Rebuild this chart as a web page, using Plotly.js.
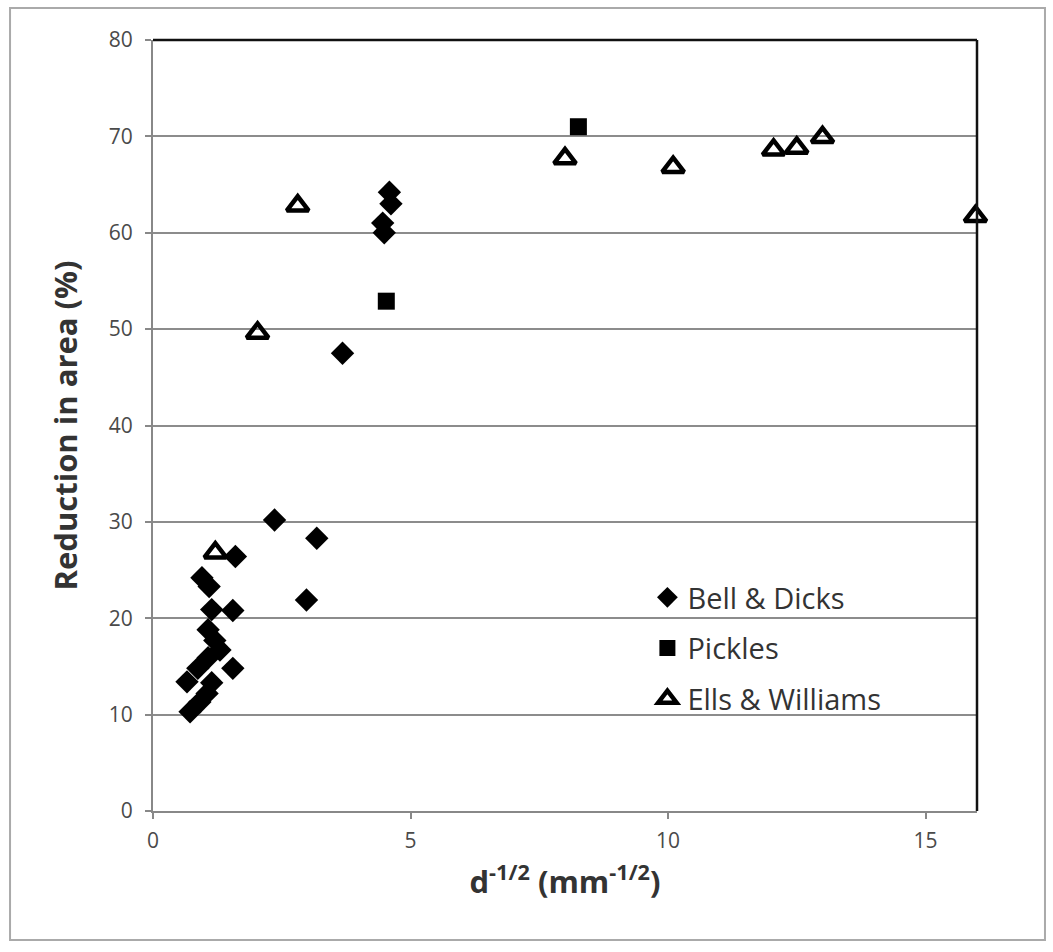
<!DOCTYPE html>
<html>
<head>
<meta charset="utf-8">
<script src="https://cdn.plot.ly/plotly-3.0.1.min.js"></script>
<style>html,body{margin:0;padding:0;background:#fff;}#chart{width:1053px;height:952px;}</style>
</head>
<body>
<div id="chart"></div>
<script>
// Bell & Dicks
const bellX = [0.95, 1.09, 1.14, 1.55, 1.07, 1.2, 1.3, 1.07, 0.87, 0.66, 1.55, 1.14, 1.05, 0.91, 0.72, 1.6, 2.36, 3.18, 2.98, 3.68, 4.59, 4.62, 4.46, 4.49];
const bellY = [24.2, 23.3, 20.9, 20.8, 18.8, 17.7, 16.7, 15.9, 14.8, 13.4, 14.8, 13.3, 12.2, 11.3, 10.3, 26.4, 30.2, 28.3, 21.9, 47.5, 64.2, 63.0, 61.0, 60.0];
// Pickles
const picklesX = [4.53, 8.26];
const picklesY = [52.9, 71.0];
// Ells & Williams
const ellsX = [1.21, 2.03, 2.81, 8.0, 10.1, 12.05, 12.5, 13.0, 15.97];
const ellsY = [26.8, 49.6, 62.8, 67.7, 66.8, 68.6, 68.8, 69.9, 61.7];

const seriesNames = ['Bell & Dicks', 'Pickles', 'Ells & Williams'];
const xTicks = [0, 5, 10, 15];
const yTicks = [0, 10, 20, 30, 40, 50, 60, 70, 80];

const traces = [
  {x: bellX, y: bellY, name: seriesNames[0], legendgroup: 'a', type: 'scatter', mode: 'markers', cliponaxis: false,
   marker: {symbol: 'diamond', size: 18, color: '#000'}},
  {x: picklesX, y: picklesY, name: seriesNames[1], legendgroup: 'b', type: 'scatter', mode: 'markers', cliponaxis: false,
   marker: {symbol: 'square', size: 17, color: '#000'}},
  {x: ellsX, y: ellsY, name: seriesNames[2], legendgroup: 'c', type: 'scatter', mode: 'markers', cliponaxis: false,
   marker: {symbol: 'triangle-up-open', size: 19, color: '#000', line: {width: 4.5, color: '#000'}}}
];

const layout = {
  width: 1053, height: 952,
  margin: {l: 153, r: 76, t: 40, b: 141},
  paper_bgcolor: '#fff', plot_bgcolor: '#fff',
  font: {family: 'Open Sans, Noto Sans, sans-serif', color: '#444'},
  showlegend: true,
  legend: {x: 0.6, y: 0.31, xanchor: 'left', yanchor: 'top', bgcolor: 'rgba(0,0,0,0)',
           font: {size: 29, color: '#333', family: 'Open Sans, sans-serif'}, tracegroupgap: 10, itemwidth: 30},
  xaxis: {range: [0, 16], tickvals: xTicks, ticktext: xTicks.map(String), showgrid: false, zeroline: false,
          showline: true, linecolor: '#888', linewidth: 2, ticks: 'outside', ticklen: 6, tickcolor: '#888', tickwidth: 2,
          tickfont: {size: 21, color: '#4a4a4a'}, ticklabelstandoff: 4,
          title: {text: '<b>d<sup>-1/2</sup> (mm<sup>-1/2</sup>)</b>', font: {size: 31, color: '#333'}, standoff: 18}},
  yaxis: {range: [0, 80], tickvals: yTicks, showgrid: true, gridcolor: '#8c8c8c', gridwidth: 2, zeroline: false,
          showline: true, linecolor: '#888', linewidth: 2, ticks: 'outside', ticklen: 6, tickcolor: '#888', tickwidth: 2,
          tickfont: {size: 21, color: '#4a4a4a'}, ticklabelstandoff: 8,
          title: {text: '<b>Reduction in area (%)</b>', font: {size: 31, color: '#333'}, standoff: 22}},
  shapes: [
    {type: 'line', xref: 'paper', yref: 'paper', x0: 0, x1: 1, y0: 1, y1: 1, line: {color: '#111', width: 2.5}},
    {type: 'line', xref: 'paper', yref: 'paper', x0: 1, x1: 1, y0: 0, y1: 1, line: {color: '#111', width: 2.5}},
    {type: 'rect', xref: 'paper', yref: 'paper', x0: -0.1735, x1: 1.0825, y0: -0.1673, y1: 1.0415,
     line: {color: '#aaa', width: 2}, fillcolor: 'rgba(0,0,0,0)', layer: 'below'}
  ]
};

Plotly.newPlot('chart', traces, layout, {displayModeBar: false, staticPlot: true});
</script>
</body>
</html>
